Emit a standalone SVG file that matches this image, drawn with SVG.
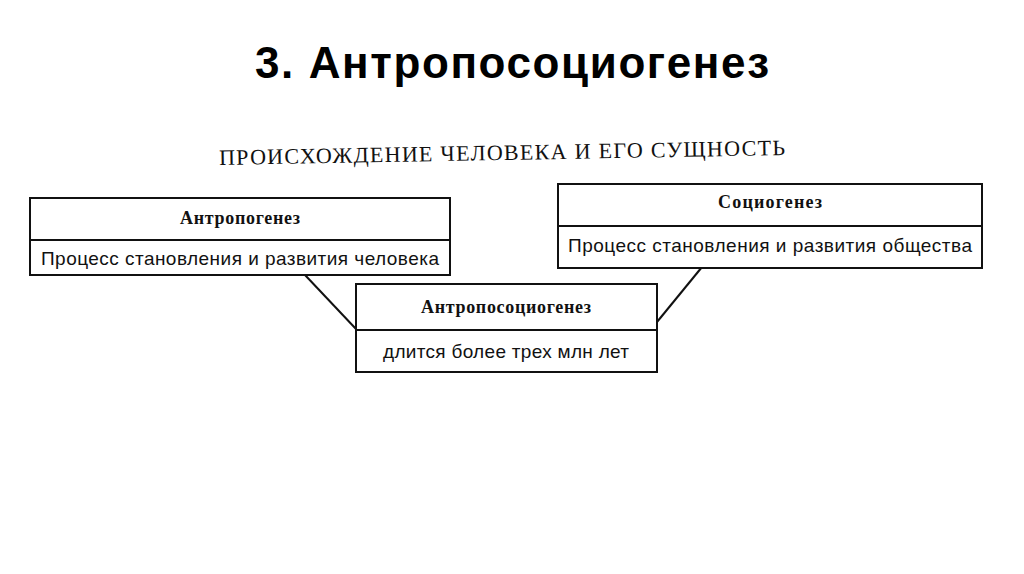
<svg xmlns="http://www.w3.org/2000/svg" width="1024" height="574" viewBox="0 0 1024 574">
<style>
.b{fill:#fff;stroke:#111;stroke-width:2}
.h{font-family:"Liberation Serif",serif;font-weight:bold;font-size:18px;fill:#111;text-anchor:middle}
.t{font-family:"Liberation Sans",sans-serif;font-size:19px;fill:#111;text-anchor:middle}
</style>
<rect width="1024" height="574" fill="#fff"/>
<text x="512" y="78" font-family="Liberation Sans,sans-serif" font-weight="bold" font-size="44" text-anchor="middle" fill="#000" textLength="514">3. Антропосоциогенез</text>
<text x="502" y="160" font-family="Liberation Serif,serif" font-size="22" text-anchor="middle" fill="#111" transform="rotate(-1 502 155)" textLength="566">ПРОИСХОЖДЕНИЕ ЧЕЛОВЕКА И ЕГО СУЩНОСТЬ</text>
<g id="connectors" stroke="#111" stroke-width="2">
<line x1="305" y1="275" x2="356" y2="329"/>
<line x1="657" y1="322" x2="702" y2="267"/>
</g>
<g id="antropogenez">
<rect class="b" x="30" y="198" width="420" height="77"/>
<line x1="30" y1="240" x2="450" y2="240" stroke="#111" stroke-width="2"/>
<text class="h" x="240" y="224" textLength="120">Антропогенез</text>
<text class="t" x="240" y="265" textLength="398">Процесс становления  и развития человека</text>
</g>
<g id="sociogenez">
<rect class="b" x="558" y="184" width="424" height="84"/>
<line x1="558" y1="226" x2="982" y2="226" stroke="#111" stroke-width="2"/>
<text class="h" x="770" y="208" textLength="104">Социогенез</text>
<text class="t" x="770" y="252" textLength="404">Процесс становления и развития общества</text>
</g>
<g id="antroposociogenez">
<rect class="b" x="356" y="284" width="301" height="88"/>
<line x1="356" y1="330" x2="657" y2="330" stroke="#111" stroke-width="2"/>
<text class="h" x="506" y="313" textLength="170">Антропосоциогенез</text>
<text class="t" x="506" y="358" textLength="246">длится более трех млн лет</text>
</g>
</svg>
